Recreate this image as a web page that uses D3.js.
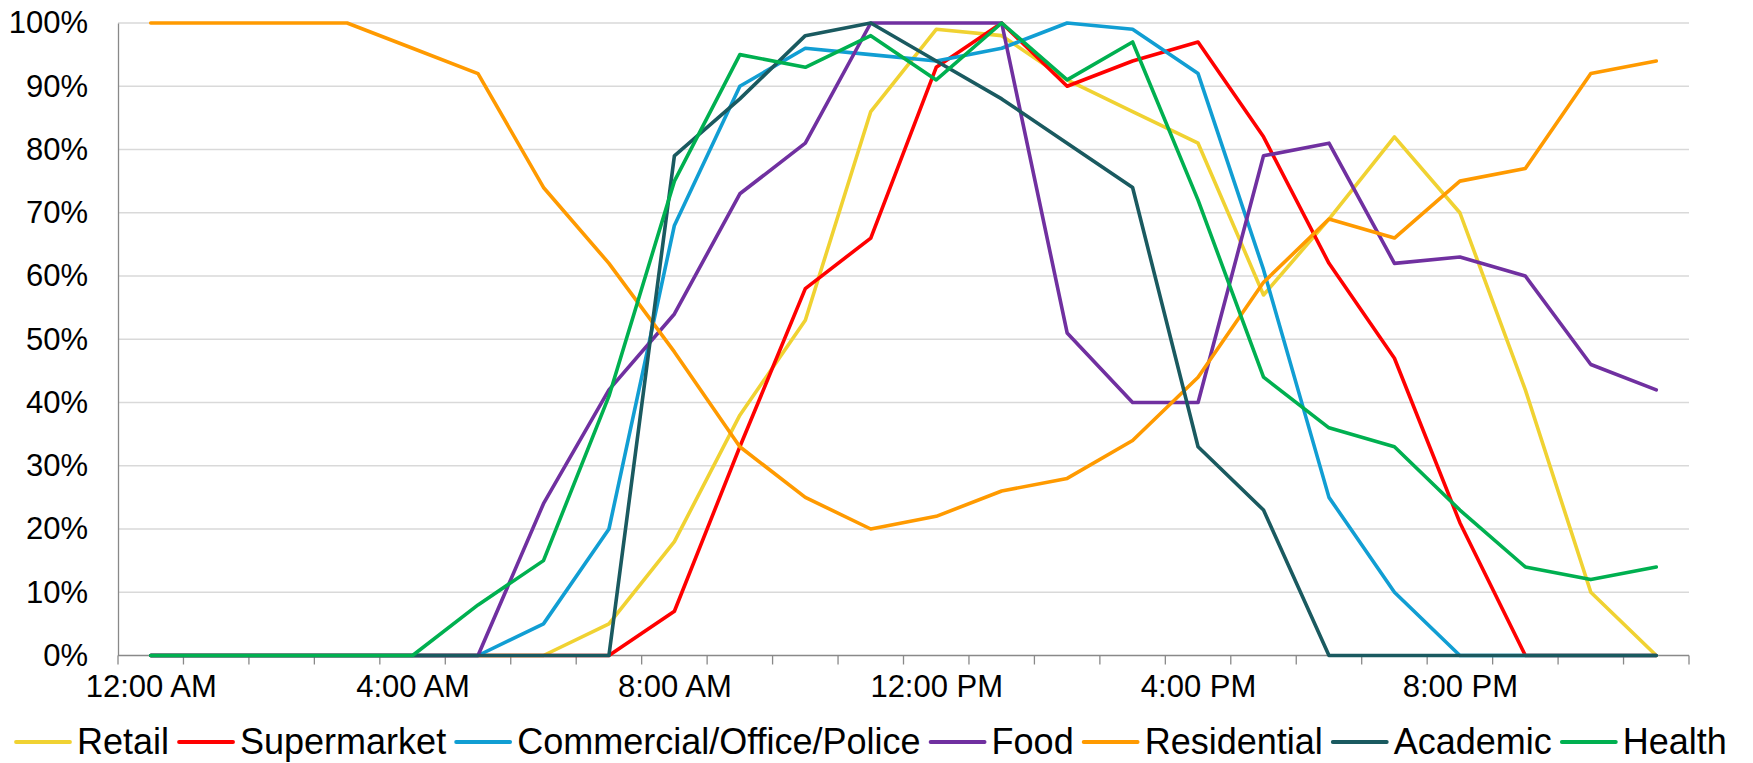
<!DOCTYPE html>
<html>
<head>
<meta charset="utf-8">
<script src="https://cdn.jsdelivr.net/npm/d3@7/dist/d3.min.js"></script>
<style>
html, body { margin: 0; padding: 0; background: #ffffff; }
svg { display: block; font-family: "Liberation Sans", Arial, sans-serif; }
</style>
</head>
<body>
<svg id="chart" width="1753" height="763"></svg>
<script>
// ---- data ----
const categories = ["12:00 AM","1:00 AM","2:00 AM","3:00 AM","4:00 AM","5:00 AM","6:00 AM","7:00 AM",
  "8:00 AM","9:00 AM","10:00 AM","11:00 AM","12:00 PM","1:00 PM","2:00 PM","3:00 PM",
  "4:00 PM","5:00 PM","6:00 PM","7:00 PM","8:00 PM","9:00 PM","10:00 PM","11:00 PM"];
const xTickLabels = ["12:00 AM","4:00 AM","8:00 AM","12:00 PM","4:00 PM","8:00 PM"];
const yTicks = [0,10,20,30,40,50,60,70,80,90,100];

const seriesNames = ["Retail","Supermarket","Commercial/Office/Police","Food","Residential","Academic","Health"];
const seriesColors = ["#F0D232","#FF0000","#119ED3","#7030A0","#FF9A00","#1A5A60","#00B050"];

const retail      = [0,0,0,0,0,0,0,5,18,38,53,86,99,98,91,86,81,57,69,82,70,42,10,0];
const supermarket = [0,0,0,0,0,0,0,0,7,33,58,66,93,100,90,94,97,82,62,47,21,0,0,0];
const commercial  = [0,0,0,0,0,0,5,20,68,90,96,95,94,96,100,99,92,61,25,10,0,0,0,0];
const food        = [0,0,0,0,0,0,24,42,54,73,81,100,100,100,51,40,40,79,81,62,63,60,46,42];
const residential = [100,100,100,100,96,92,74,62,48,33,25,20,22,26,28,34,44,59,69,66,75,77,92,94];
const academic    = [0,0,0,0,0,0,0,0,79,88,98,100,94,88,81,74,33,23,0,0,0,0,0,0];
const health      = [0,0,0,0,0,8,15,41,75,95,93,98,91,100,91,97,72,44,36,33,23,14,12,14];

const seriesValues = [retail, supermarket, commercial, food, residential, academic, health];

// ---- layout ----
const svg = d3.select("#chart");
const plotLeft = 118, plotRight = 1689, plotTop = 23, plotBottom = 655.5;

const xBand = d3.scaleBand().domain(categories).range([plotLeft, plotRight]).paddingInner(0).paddingOuter(0);
const x = d3.scalePoint().domain(categories).range([plotLeft, plotRight]).padding(0.5);
const y = d3.scaleLinear().domain([0, 100]).range([plotBottom, plotTop]);

// gridlines
svg.append("g").selectAll("line").data(yTicks.filter(d => d > 0)).join("line")
  .attr("x1", plotLeft).attr("x2", plotRight)
  .attr("y1", d => y(d)).attr("y2", d => y(d))
  .attr("stroke", "#D9D9D9").attr("stroke-width", 1.5);

// y axis
const yAxis = svg.append("g").attr("transform", `translate(${plotLeft},0)`)
  .call(d3.axisLeft(y).tickValues(yTicks).tickFormat(d => d + "%").tickSize(0).tickPadding(30));
yAxis.select(".domain").attr("stroke", "#898989").attr("stroke-width", 1.3);
yAxis.selectAll("text").attr("font-size", 31).attr("fill", "#000").attr("font-family", "Liberation Sans, Arial, sans-serif");

// x axis
const xAxis = svg.append("g").attr("transform", `translate(0,${plotBottom})`)
  .call(d3.axisBottom(x).tickValues(xTickLabels).tickSize(0).tickPadding(19));
xAxis.select(".domain").remove();
xAxis.selectAll("text").attr("font-size", 31).attr("fill", "#000").attr("font-family", "Liberation Sans, Arial, sans-serif");
svg.append("line").attr("x1", plotLeft).attr("x2", plotRight).attr("y1", plotBottom).attr("y2", plotBottom)
  .attr("stroke", "#898989").attr("stroke-width", 1.3);
const boundaries = categories.map(c => xBand(c)).concat([xBand(categories[categories.length-1]) + xBand.bandwidth()]);
svg.append("g").selectAll("line").data(boundaries).join("line")
  .attr("x1", d => d).attr("x2", d => d).attr("y1", plotBottom).attr("y2", plotBottom + 9)
  .attr("stroke", "#898989").attr("stroke-width", 1.3);

// lines
const line = d3.line().x((d, i) => x(categories[i])).y(d => y(d));
svg.append("g").selectAll("path").data(seriesValues).join("path")
  .attr("d", d => line(d))
  .attr("fill", "none")
  .attr("stroke", (d, i) => seriesColors[i])
  .attr("stroke-width", 3.6)
  .attr("stroke-linejoin", "round")
  .attr("stroke-linecap", "round");

// legend
const legend = svg.append("g");
const legY = 742;
let cx = 16;
seriesNames.forEach((name, i) => {
  legend.append("line").attr("x1", cx).attr("x2", cx + 54).attr("y1", legY).attr("y2", legY)
    .attr("stroke", seriesColors[i]).attr("stroke-width", 3.8).attr("stroke-linecap", "round");
  const t = legend.append("text").attr("x", cx + 61).attr("y", 754)
    .attr("font-size", 36).attr("fill", "#000").text(name);
  cx += 61 + t.node().getComputedTextLength() + 10;
});
</script>
</body>
</html>
